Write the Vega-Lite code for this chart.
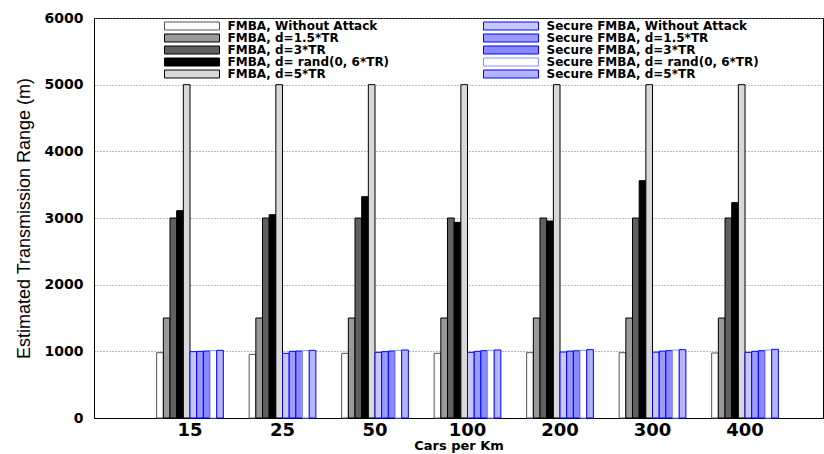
{
  "$schema": "https://vega.github.io/schema/vega-lite/v6.json",
  "width": 729,
  "height": 400,
  "autosize": {"type": "none"},
  "padding": {"left": 94, "top": 18, "right": 1, "bottom": 36},
  "background": "white",
  "config": {
    "view": {"stroke": "#000", "strokeWidth": 1},
    "font": "DejaVu Sans",
    "legend": {
      "orient": "none",
      "legendX": 92,
      "legendY": 2,
      "columns": 2,
      "padding": 0,
      "title": null,
      "symbolType": "M-5.5,-0.8H5.5V0.8H-5.5Z",
      "symbolSize": 100,
      "symbolStrokeWidth": 1,
      "symbolOpacity": 1,
      "labelOffset": 29.5,
      "labelFont": "DejaVu Sans",
      "labelFontWeight": "bold",
      "labelFontSize": 12,
      "labelColor": "#000",
      "labelLimit": 400,
      "rowPadding": 0,
      "columnPadding": 91
    }
  },
  "data": {
    "values": [
      {"cars": "15", "series": "FMBA, Without Attack", "value": 980},
      {"cars": "15", "series": "FMBA, d=1.5*TR", "value": 1500},
      {"cars": "15", "series": "FMBA, d=3*TR", "value": 3000},
      {"cars": "15", "series": "FMBA, d= rand(0, 6*TR)", "value": 3110},
      {"cars": "15", "series": "FMBA, d=5*TR", "value": 5000},
      {"cars": "15", "series": "Secure FMBA, Without Attack", "value": 995},
      {"cars": "15", "series": "Secure FMBA, d=1.5*TR", "value": 1000},
      {"cars": "15", "series": "Secure FMBA, d=3*TR", "value": 1005},
      {"cars": "15", "series": "Secure FMBA, d= rand(0, 6*TR)", "value": 1010},
      {"cars": "15", "series": "Secure FMBA, d=5*TR", "value": 1015},
      {"cars": "25", "series": "FMBA, Without Attack", "value": 955},
      {"cars": "25", "series": "FMBA, d=1.5*TR", "value": 1500},
      {"cars": "25", "series": "FMBA, d=3*TR", "value": 3000},
      {"cars": "25", "series": "FMBA, d= rand(0, 6*TR)", "value": 3050},
      {"cars": "25", "series": "FMBA, d=5*TR", "value": 5000},
      {"cars": "25", "series": "Secure FMBA, Without Attack", "value": 970},
      {"cars": "25", "series": "Secure FMBA, d=1.5*TR", "value": 1000},
      {"cars": "25", "series": "Secure FMBA, d=3*TR", "value": 1005},
      {"cars": "25", "series": "Secure FMBA, d= rand(0, 6*TR)", "value": 1010},
      {"cars": "25", "series": "Secure FMBA, d=5*TR", "value": 1015},
      {"cars": "50", "series": "FMBA, Without Attack", "value": 970},
      {"cars": "50", "series": "FMBA, d=1.5*TR", "value": 1500},
      {"cars": "50", "series": "FMBA, d=3*TR", "value": 3000},
      {"cars": "50", "series": "FMBA, d= rand(0, 6*TR)", "value": 3320},
      {"cars": "50", "series": "FMBA, d=5*TR", "value": 5000},
      {"cars": "50", "series": "Secure FMBA, Without Attack", "value": 985},
      {"cars": "50", "series": "Secure FMBA, d=1.5*TR", "value": 995},
      {"cars": "50", "series": "Secure FMBA, d=3*TR", "value": 1005},
      {"cars": "50", "series": "Secure FMBA, d= rand(0, 6*TR)", "value": 1015},
      {"cars": "50", "series": "Secure FMBA, d=5*TR", "value": 1020},
      {"cars": "100", "series": "FMBA, Without Attack", "value": 970},
      {"cars": "100", "series": "FMBA, d=1.5*TR", "value": 1500},
      {"cars": "100", "series": "FMBA, d=3*TR", "value": 3000},
      {"cars": "100", "series": "FMBA, d= rand(0, 6*TR)", "value": 2935},
      {"cars": "100", "series": "FMBA, d=5*TR", "value": 5000},
      {"cars": "100", "series": "Secure FMBA, Without Attack", "value": 985},
      {"cars": "100", "series": "Secure FMBA, d=1.5*TR", "value": 1000},
      {"cars": "100", "series": "Secure FMBA, d=3*TR", "value": 1010},
      {"cars": "100", "series": "Secure FMBA, d= rand(0, 6*TR)", "value": 1015},
      {"cars": "100", "series": "Secure FMBA, d=5*TR", "value": 1020},
      {"cars": "200", "series": "FMBA, Without Attack", "value": 980},
      {"cars": "200", "series": "FMBA, d=1.5*TR", "value": 1500},
      {"cars": "200", "series": "FMBA, d=3*TR", "value": 3000},
      {"cars": "200", "series": "FMBA, d= rand(0, 6*TR)", "value": 2955},
      {"cars": "200", "series": "FMBA, d=5*TR", "value": 5000},
      {"cars": "200", "series": "Secure FMBA, Without Attack", "value": 990},
      {"cars": "200", "series": "Secure FMBA, d=1.5*TR", "value": 1003},
      {"cars": "200", "series": "Secure FMBA, d=3*TR", "value": 1008},
      {"cars": "200", "series": "Secure FMBA, d= rand(0, 6*TR)", "value": 1015},
      {"cars": "200", "series": "Secure FMBA, d=5*TR", "value": 1025},
      {"cars": "300", "series": "FMBA, Without Attack", "value": 980},
      {"cars": "300", "series": "FMBA, d=1.5*TR", "value": 1500},
      {"cars": "300", "series": "FMBA, d=3*TR", "value": 3000},
      {"cars": "300", "series": "FMBA, d= rand(0, 6*TR)", "value": 3560},
      {"cars": "300", "series": "FMBA, d=5*TR", "value": 5000},
      {"cars": "300", "series": "Secure FMBA, Without Attack", "value": 988},
      {"cars": "300", "series": "Secure FMBA, d=1.5*TR", "value": 1003},
      {"cars": "300", "series": "Secure FMBA, d=3*TR", "value": 1010},
      {"cars": "300", "series": "Secure FMBA, d= rand(0, 6*TR)", "value": 1018},
      {"cars": "300", "series": "Secure FMBA, d=5*TR", "value": 1025},
      {"cars": "400", "series": "FMBA, Without Attack", "value": 975},
      {"cars": "400", "series": "FMBA, d=1.5*TR", "value": 1500},
      {"cars": "400", "series": "FMBA, d=3*TR", "value": 3000},
      {"cars": "400", "series": "FMBA, d= rand(0, 6*TR)", "value": 3230},
      {"cars": "400", "series": "FMBA, d=5*TR", "value": 5000},
      {"cars": "400", "series": "Secure FMBA, Without Attack", "value": 985},
      {"cars": "400", "series": "Secure FMBA, d=1.5*TR", "value": 1000},
      {"cars": "400", "series": "Secure FMBA, d=3*TR", "value": 1010},
      {"cars": "400", "series": "Secure FMBA, d= rand(0, 6*TR)", "value": 1020},
      {"cars": "400", "series": "Secure FMBA, d=5*TR", "value": 1030}
    ]
  },
  "mark": {"type": "bar", "strokeWidth": 1},
  "encoding": {
    "x": {
      "field": "cars",
      "type": "ordinal",
      "sort": ["15", "25", "50", "100", "200", "300", "400"],
      "scale": {"paddingInner": 0.279, "paddingOuter": 0.58, "align": 0.584},
      "title": "Cars per Km",
      "axis": {
        "labelAngle": 0,
        "labelFont": "DejaVu Sans",
        "labelFontWeight": "bold",
        "labelFontSize": 18,
        "labelColor": "#000",
        "labelPadding": 3,
        "ticks": false,
        "domainColor": "#000",
        "titleFont": "DejaVu Sans",
        "titleFontWeight": "bold",
        "titleFontSize": 13,
        "titleColor": "#000",
        "titlePadding": 0
      }
    },
    "xOffset": {
      "field": "series",
      "type": "nominal",
      "sort": [
        "FMBA, Without Attack", "FMBA, d=1.5*TR", "FMBA, d=3*TR", "FMBA, d= rand(0, 6*TR)", "FMBA, d=5*TR",
        "Secure FMBA, Without Attack", "Secure FMBA, d=1.5*TR", "Secure FMBA, d=3*TR", "Secure FMBA, d= rand(0, 6*TR)", "Secure FMBA, d=5*TR"
      ],
      "scale": {"paddingInner": 0, "paddingOuter": 0}
    },
    "y": {
      "field": "value",
      "type": "quantitative",
      "scale": {"domain": [0, 6000], "nice": false},
      "title": "Estimated Transmission Range (m)",
      "axis": {
        "values": [0, 1000, 2000, 3000, 4000, 5000, 6000],
        "format": "d",
        "labelFont": "DejaVu Sans",
        "labelFontWeight": "bold",
        "labelFontSize": 14,
        "labelColor": "#000",
        "labelPadding": 11,
        "ticks": false,
        "domainColor": "#000",
        "grid": true,
        "gridColor": "#777",
        "gridDash": [1, 2],
        "gridOpacity": 1,
        "titleFont": "Liberation Sans",
        "titleFontWeight": "normal",
        "titleFontSize": 18,
        "titleColor": "#000",
        "titlePadding": 11
      }
    },
    "fill": {
      "field": "series",
      "type": "nominal",
      "scale": {
        "domain": [
          "FMBA, Without Attack", "FMBA, d=1.5*TR", "FMBA, d=3*TR", "FMBA, d= rand(0, 6*TR)", "FMBA, d=5*TR",
          "Secure FMBA, Without Attack", "Secure FMBA, d=1.5*TR", "Secure FMBA, d=3*TR", "Secure FMBA, d= rand(0, 6*TR)", "Secure FMBA, d=5*TR"
        ],
        "range": ["#ffffff", "#9a9a9a", "#606060", "#000000", "#d8d8d8", "#c8c8ff", "#9c9cff", "#8a8aff", "#ffffff", "#b4b4ff"]
      },
      "legend": {"title": null}
    },
    "stroke": {
      "field": "series",
      "type": "nominal",
      "scale": {
        "domain": [
          "FMBA, Without Attack", "FMBA, d=1.5*TR", "FMBA, d=3*TR", "FMBA, d= rand(0, 6*TR)", "FMBA, d=5*TR",
          "Secure FMBA, Without Attack", "Secure FMBA, d=1.5*TR", "Secure FMBA, d=3*TR", "Secure FMBA, d= rand(0, 6*TR)", "Secure FMBA, d=5*TR"
        ],
        "range": ["#555555", "#000000", "#000000", "#000000", "#000000", "#0000ff", "#0000ff", "#0000ff", "#9090ff", "#0000ff"]
      },
      "legend": {"title": null}
    }
  }
}
